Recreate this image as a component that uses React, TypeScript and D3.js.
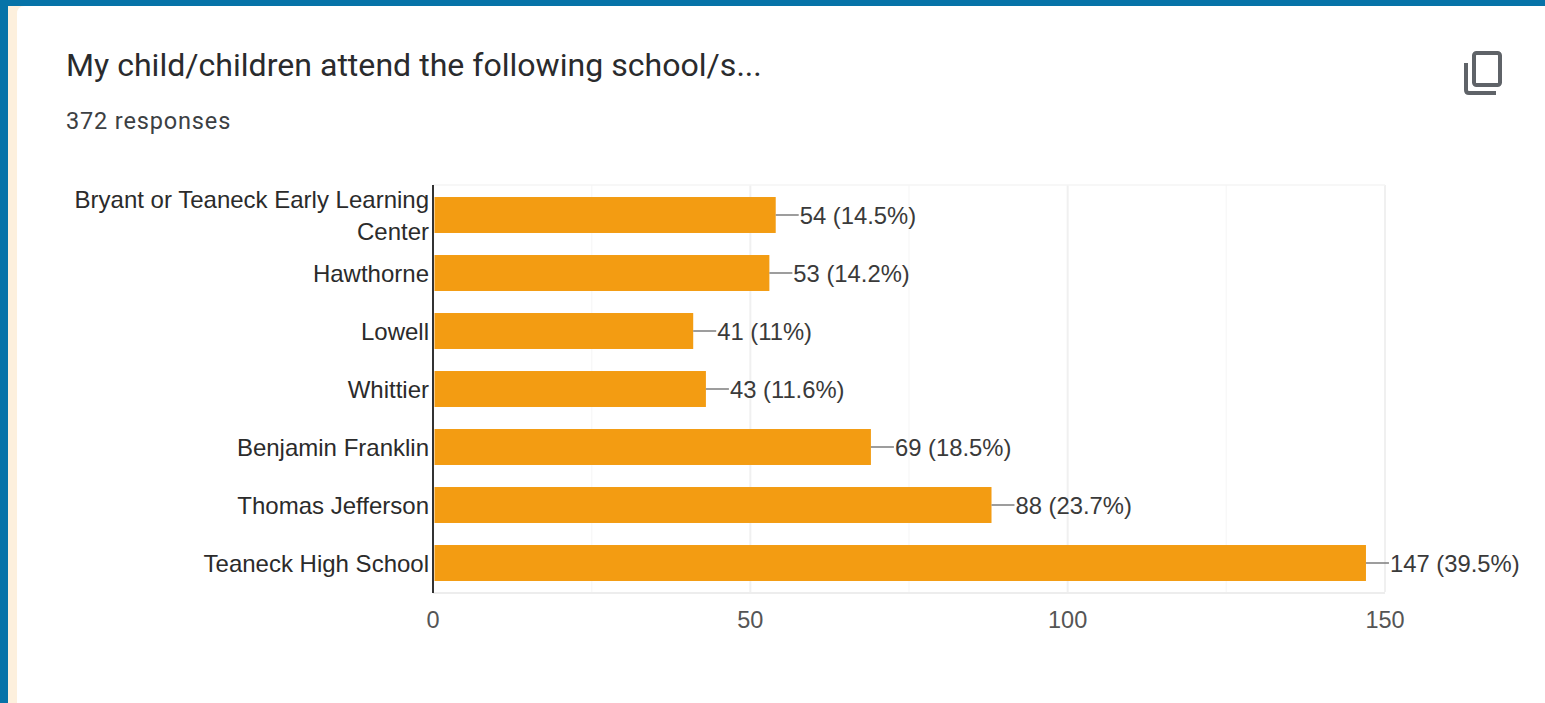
import React from "react";
import * as d3 from "d3";

const schools = [
  "Bryant or Teaneck Early Learning|Center",
  "Hawthorne",
  "Lowell",
  "Whittier",
  "Benjamin Franklin",
  "Thomas Jefferson",
  "Teaneck High School",
];
const counts = [54, 53, 41, 43, 69, 88, 147];
const shares = ["14.5%", "14.2%", "11%", "11.6%", "18.5%", "23.7%", "39.5%"];
const majorTicks = [0, 50, 100, 150];
const minorTicks = [25, 75, 125];

const W = 1545;
const H = 703;
const plot = { left: 433, right: 1385, top: 185, bottom: 592 };
const labelFont = "'Liberation Sans', Arial, sans-serif";
const headFont = "Roboto, sans-serif";

export default function App() {
  const x = d3.scaleLinear().domain([0, 150]).range([plot.left, plot.right]);
  const y = d3
    .scaleBand<number>()
    .domain(d3.range(schools.length))
    .range([plot.top + 1, plot.bottom])
    .paddingInner(0.38)
    .paddingOuter(0.19);

  return (
    <svg
      width={W}
      height={H}
      viewBox={`0 0 ${W} ${H}`}
      style={{ position: "absolute", left: 0, top: 0, display: "block" }}
    >
      {/* page frame behind the card */}
      <rect width={W} height={H} fill="#0673a8" />
      <rect x={8} y={6} width={W - 8} height={H - 6} fill="#fdf0dd" />
      <path d={`M17 ${H}V14Q17 6 25 6H${W}V${H}Z`} fill="#ffffff" />

      <text x={66} y={76} fontFamily={headFont} fontSize={32.1} fill="#2a2b2d">
        My child/children attend the following school/s...
      </text>
      <text
        x={66}
        y={129}
        fontFamily={headFont}
        fontSize={23.5}
        letterSpacing={0.85}
        fill="#3c4043"
      >
        372 responses
      </text>

      {/* copy icon */}
      <g fill="none" stroke="#5f6368" strokeWidth={4}>
        <rect x={1474} y={53} width={26} height={32} rx={2.5} />
        <path d="M1466 63V90Q1466 93 1469 93H1496" />
      </g>

      {/* gridlines */}
      {minorTicks.map((t) => (
        <line key={t} x1={x(t)} x2={x(t)} y1={plot.top} y2={plot.bottom} stroke="#f8f8f8" strokeWidth={1.5} />
      ))}
      {majorTicks.slice(1).map((t) => (
        <line key={t} x1={x(t)} x2={x(t)} y1={plot.top} y2={plot.bottom} stroke="#f0f0f0" strokeWidth={2} />
      ))}
      <line x1={plot.left} x2={plot.right} y1={plot.top} y2={plot.top} stroke="#f4f4f4" strokeWidth={1.5} />
      <line x1={plot.left} x2={plot.right} y1={plot.bottom + 1} y2={plot.bottom + 1} stroke="#ededed" strokeWidth={2} />

      {/* bars, leader lines and value labels */}
      {counts.map((c, i) => {
        const cy = y(i)! + y.bandwidth() / 2;
        return (
          <g key={schools[i]}>
            <rect
              x={x(0) + 1.5}
              y={y(i)!}
              width={x(c) - x(0) - 1.5}
              height={y.bandwidth()}
              fill="#f39c12"
            />
            <line x1={x(c)} x2={x(c) + 23} y1={cy} y2={cy} stroke="#7d7d7d" strokeWidth={1.5} />
            <text
              x={x(c) + 24}
              y={cy + 0.5}
              dy="0.35em"
              fontFamily={labelFont}
              fontSize={23.8}
              fill="#3a3a3a"
            >
              {`${c} (${shares[i]})`}
            </text>
          </g>
        );
      })}

      {/* category labels, wrapped on the | marker */}
      {schools.map((s, i) => {
        const cy = y(i)! + y.bandwidth() / 2;
        const lines = s.split("|");
        return (
          <text key={s} textAnchor="end" fontFamily={labelFont} fontSize={24} fill="#2b2b2b">
            {lines.map((l, k) => (
              <tspan key={l} x={429} y={cy + 0.5 + (k - (lines.length - 1) / 2) * 32} dy="0.35em">
                {l}
              </tspan>
            ))}
          </text>
        );
      })}

      {/* baseline */}
      <line x1={x(0)} x2={x(0)} y1={plot.top} y2={plot.bottom + 1} stroke="#333333" strokeWidth={2} />

      {/* value axis labels */}
      {majorTicks.map((t) => (
        <text
          key={t}
          x={x(t)}
          y={620}
          dy="0.35em"
          textAnchor="middle"
          fontFamily={labelFont}
          fontSize={23.5}
          fill="#555555"
        >
          {t}
        </text>
      ))}
    </svg>
  );
}
